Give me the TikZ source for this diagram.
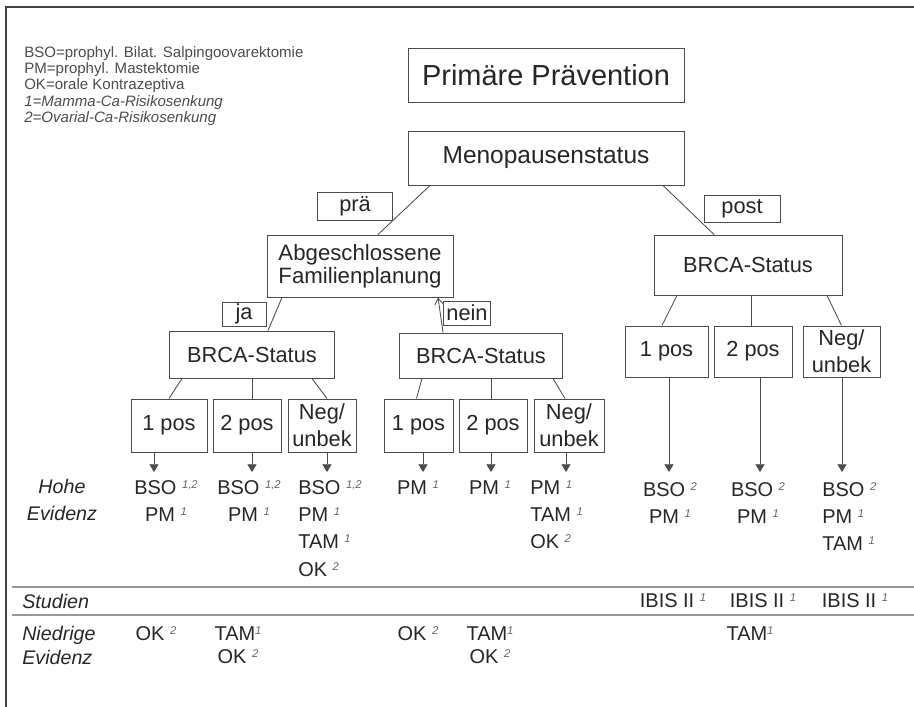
\documentclass[tikz,border=0pt]{standalone}
\usepackage{fontspec}
\setmainfont{Liberation Sans}
\usetikzlibrary{positioning,arrows.meta,calc}
\newcommand{\sps}[1]{\raisebox{4.3pt}{\fontsize{8}{8}\selectfont\itshape\color{black!60}#1}}

\begin{document}
\begin{tikzpicture}[x=0.025cm, y=-0.025cm,
  wh/.style 2 args={minimum width=#1*0.025cm, minimum height=#2*0.025cm},
  box/.style={draw=black!70, line width=0.7pt, inner sep=0pt, align=center, text=black!85, font=\fontsize{15.5}{19}\selectfont},
  res/.style={inner sep=0pt, text=black!85, font=\fontsize{14.2}{19.4}\selectfont},
  lab/.style={inner sep=0pt, align=left, text=black!85, font=\fontsize{14}{19.2}\selectfont\itshape},
  conn/.style={draw=black!70, line width=0.6pt},
  arr/.style={conn, -{Triangle[width=6.5pt,length=5.5pt]}},
  sep/.style={draw=black!40, line width=1.4pt}]
\useasboundingbox (0,0) rectangle (914,707);
\draw[black!75, line width=1.3pt] (6,707) -- (6,7) -- (914,7);
% legend
\node[anchor=north west, inner sep=0pt, align=left, text=black!70, font=\fontsize{10.7}{11.6}\selectfont] (legend) at (24,46)
  {BSO=prophyl. Bilat. Salpingoovarektomie\\PM=prophyl. Mastektomie\\OK=orale Kontrazeptiva\\\textit{1=Mamma-Ca-Risikosenkung}\\\textit{2=Ovarial-Ca-Risikosenkung}};
% tree
\node[box, wh={276}{54}, font=\fontsize{20.6}{24}\selectfont] (title) at (546,75) {Primäre Prävention};
\node[box, wh={276}{54}, font=\fontsize{17.4}{20}\selectfont] (meno) at (546,158) {Menopausenstatus};
\node[box, wh={75}{28}] (pra) at (355,206) {prä};
\node[box, wh={76}{27}] (post) at (742,209) {post};
\node[box, wh={186}{62}, font=\fontsize{15.8}{16.4}\selectfont] (famplan) at (360,266) {Abgeschlossene\\Familienplanung};
\node[box, wh={188}{60}] (brcaR) at (748,265) {BRCA-Status};
\node[box, wh={44}{24}] (ja) at (244,314) {ja};
\node[box, wh={47}{24}] (nein) at (467,313) {nein};
\node[box, wh={165}{47}] (brcaL) at (252,354.5) {BRCA-Status};
\node[box, wh={163}{45}] (brcaM) at (481,355.5) {BRCA-Status};
% status boxes
\node[box, wh={76}{53}] (l1) at (169,425.5) {1 pos};
\node[box, wh={68}{53}] (l2) at (247,425.5) {2 pos};
\node[box, wh={68}{53}] (l3) at (322,425.5) {Neg/\\unbek};
\node[box, wh={69}{53}] (m1) at (418.5,425.5) {1 pos};
\node[box, wh={68}{53}] (m2) at (493,425.5) {2 pos};
\node[box, wh={70}{53}] (m3) at (569,425.5) {Neg/\\unbek};
\node[box, wh={83}{51}] (r1) at (666.5,351.5) {1 pos};
\node[box, wh={78}{51}] (r2) at (753,351.5) {2 pos};
\node[box, wh={77}{51}] (r3) at (841.5,351.5) {Neg/\\unbek};
% connectors
\draw[conn] ($(meno.south)+(-116,0)$) -- ($(famplan.north)+(18,0)$);
\draw[conn] ($(meno.south)+(117,0)$) -- ($(brcaR.north)+(-34,0)$);
\draw[conn] ($(famplan.south)+(-78,0)$) -- ($(brcaL.north)+(16,0)$);
\draw[conn, {Straight Barb[length=4.5pt,width=6pt]}-] ($(famplan.south)+(78,0)$) -- ($(brcaM.north)+(-38,0)$);
\draw[conn] ($(brcaL.south)+(-70,0)$) -- (l1.north);
\draw[conn] (brcaL.south) -- ($(l2.north)+(5,0)$);
\draw[conn] ($(brcaL.south)+(60,0)$) -- ($(l3.north)+(5,0)$);
\draw[conn] ($(brcaM.south)+(-59,0)$) -- ($(m1.north)+(-2,0)$);
\draw[conn] ($(brcaM.south)+(10,0)$) -- ($(m2.north)+(-2,0)$);
\draw[conn] ($(brcaM.south)+(72,0)$) -- ($(m3.north)+(-4,0)$);
\draw[conn] ($(brcaR.south)+(-71,0)$) -- ($(r1.north)+(-4.5,0)$);
\draw[conn] ($(brcaR.south)+(3,0)$) -- ($(r2.north)+(-2,0)$);
\draw[conn] ($(brcaR.south)+(79,0)$) -- (r3.north);
\foreach \b/\x in {l1/154, l2/252, l3/327, m1/423, m2/491, m3/566, r1/669, r2/760, r3/842} {
  \coordinate (tip\b) at (\x,472);
  \draw[arr] (\b.south -| tip\b) -- (tip\b);
}
% hohe evidenz
\node[lab, anchor=north, align=center] (hohe) at (62,479) {Hohe\\Evidenz};
\node[res, anchor=north, align=center] (hl1) at (166,480) {BSO \sps{1,2}\\PM \sps{1}};
\node[res, anchor=north, align=center] (hl2) at (249,480) {BSO \sps{1,2}\\PM \sps{1}};
\node[res, anchor=north west, align=left] (hl3) at (298,480) {BSO \sps{1,2}\\PM \sps{1}\\TAM \sps{1}\\OK \sps{2}};
\node[res, anchor=north] (hm1) at (418,480) {PM \sps{1}};
\node[res, anchor=north] (hm2) at (490,480) {PM \sps{1}};
\node[res, anchor=north west, align=left] (hm3) at (530,480) {PM \sps{1}\\TAM \sps{1}\\OK \sps{2}};
\node[res, anchor=north, align=center] (hr1) at (670,482) {BSO \sps{2}\\PM \sps{1}};
\node[res, anchor=north, align=center] (hr2) at (758,482) {BSO \sps{2}\\PM \sps{1}};
\node[res, anchor=north west, align=left] (hr3) at (822,482) {BSO \sps{2}\\PM \sps{1}\\TAM \sps{1}};
% studien
\draw[sep] (12,587) -- (914,587);
\draw[sep] (12,615) -- (914,615);
\node[lab, anchor=west] (studien) at (22,601) {Studien};
\node[res] (ibis1) at (673,601) {IBIS II \sps{1}};
\node[res] (ibis2) at (763,601) {IBIS II \sps{1}};
\node[res] (ibis3) at (855,601) {IBIS II \sps{1}};
% niedrige evidenz
\node[lab, anchor=north west, font=\fontsize{14}{17}\selectfont\itshape] (niedrig) at (22,626) {Niedrige\\Evidenz};
\node[res, anchor=north] (nl1) at (156,626) {OK \sps{2}};
\node[res, anchor=north, align=center, font=\fontsize{14.2}{17}\selectfont] (nl2) at (238,626) {TAM\sps{1}\\OK \sps{2}};
\node[res, anchor=north] (nm1) at (418,626) {OK \sps{2}};
\node[res, anchor=north, align=center, font=\fontsize{14.2}{17}\selectfont] (nm2) at (490,626) {TAM\sps{1}\\OK \sps{2}};
\node[res, anchor=north] (nr2) at (750,626) {TAM\sps{1}};
\end{tikzpicture}
\end{document}
